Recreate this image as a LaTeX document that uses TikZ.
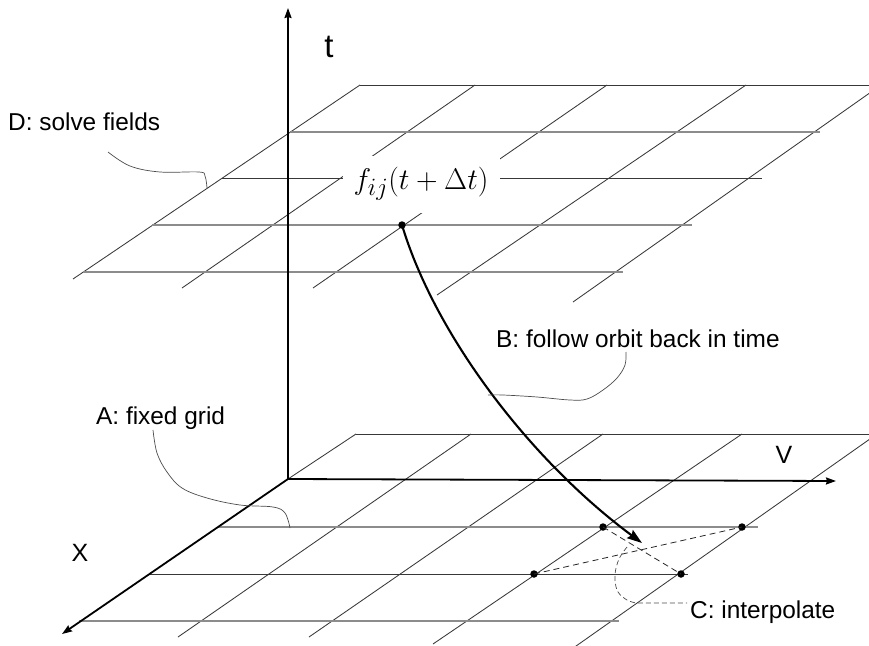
\documentclass[tikz,border=0pt]{standalone}
\usepackage{graphicx}
\usepackage{fontspec}
\setmainfont{Liberation Sans}
\usetikzlibrary{arrows.meta}
\begin{document}
\begin{tikzpicture}[x=1pt,y=-1pt,
  gdark/.style={draw=black!78,line width=0.85pt},
  glight/.style={draw=black!45,line width=1.2pt},
  axisline/.style={line width=1.8pt,-{Stealth[length=10pt,width=7pt,inset=1pt]}},
  callout/.style={draw=black!70,line width=0.7pt},
  lbl/.style={font=\fontsize{24.4}{28}\selectfont,inner sep=0pt,anchor=base west},
  axlbl/.style={inner sep=0pt,anchor=base},
  dot/.style={circle,fill=black,inner sep=0pt,minimum size=7.5pt},
  dsh/.style={draw=black!85,line width=0.8pt,dash pattern=on 6pt off 4pt},
]
\useasboundingbox (0,0) rectangle (869,645);
\clip (0,0) rectangle (869,645);

% ---------- top plane ----------
\draw[gdark] (360,85) -- (73,279);
\draw[gdark] (475,85) -- (182,288);
\draw[gdark] (607,85) -- (313,288);
\draw[gdark] (746,85) -- (437,295);
\draw[gdark] (881,85) -- (573,302);
\draw[gdark]  (360,85)  -- (900,85);
\draw[glight] (291,132) -- (820,132);
\draw[gdark]  (222,178) -- (762,178);
\draw[glight] (152,225) -- (692,225);
\draw[glight] (83,272)  -- (623,272);

% ---------- bottom plane ----------
\begin{scope}[shift={(-4,349)}]
\draw[gdark] (360,85) -- (292,130);
\draw[gdark] (475,85) -- (182,288);
\draw[gdark] (607,85) -- (313,288);
\draw[gdark] (746,85) -- (437,295);
\draw[gdark] (881,85) -- (573,302);
\draw[gdark]  (360,85)  -- (900,85);
\draw[glight] (222,178) -- (762,178);
\draw[gdark]  (152,225) -- (692,225);
\draw[glight] (83,272)  -- (623,272);
\end{scope}

% ---------- axes ----------
\coordinate (O) at (288,479);
\coordinate (tend) at (288,8);
\coordinate (vend) at (836,481);
\coordinate (xend) at (62,634);
\draw[axisline] (O) -- (tend);
\draw[axisline] (O) -- (vend);
\draw[axisline] (O) -- (xend);
\node[axlbl,font=\fontsize{33}{36}\selectfont] (tlab) at (329,57) {t};
\node[axlbl,font=\fontsize{25}{28}\selectfont] (vlab) at (784,463) {V};
\node[axlbl,font=\fontsize{25}{28}\selectfont] (xlab) at (80,561) {X};

% ---------- field label ----------
\node[fill=white,inner sep=0pt,minimum width=157pt,minimum height=57pt,
      font=\fontsize{24.88}{28}\selectfont] (flab) at (421,184)
      {\scalebox{1.2}{$f_{ij}(t+\Delta t)$}};

% ---------- orbit ----------
\node[dot] (fstart) at (402,225) {};
\coordinate (ftip) at (642,543);
\draw[line width=2.1pt,-{Stealth[length=15pt,width=10pt,inset=2pt]}]
  (fstart.center) .. controls (435,335) and (530,460) .. (ftip);

% ---------- interpolation ----------
\node[dot] (p1) at (603,527) {};
\node[dot] (p2) at (742,527) {};
\node[dot] (p3) at (534,574) {};
\node[dot] (p4) at (681,574) {};
\draw[dsh] (p1.center) -- (p4.center);
\draw[dsh] (p3.center) -- (p2.center);

% ---------- callouts ----------
\node[lbl] (D) at (8,130) {D: solve fields};
\node[lbl] (A) at (96,424) {A: fixed grid};
\node[lbl] (B) at (496,347) {B: follow orbit back in time};
\node[lbl] (C) at (690,618) {C: interpolate};

\draw[callout] plot[smooth,tension=0.6] coordinates
  {(108,152) (130,166) (160,172) (199,172) (205,176) (207,188)};
\draw[callout] plot[smooth,tension=0.6] coordinates
  {(153,430) (157,453) (167,472) (182,488) (207,498) (240,505) (273,507) (285,513) (290,528)};
\draw[callout] plot[smooth,tension=0.6] coordinates
  {(626,352) (625,365) (617,378) (603,390) (587,399) (570,400) (537,397) (503,395) (488,395)};
\draw[callout,dash pattern=on 5pt off 3pt] plot[smooth,tension=0.6] coordinates
  {(627,547) (620,557) (616,568) (615,580) (618,592) (627,600) (636,603)} -- (687,603);
\end{tikzpicture}
\end{document}
